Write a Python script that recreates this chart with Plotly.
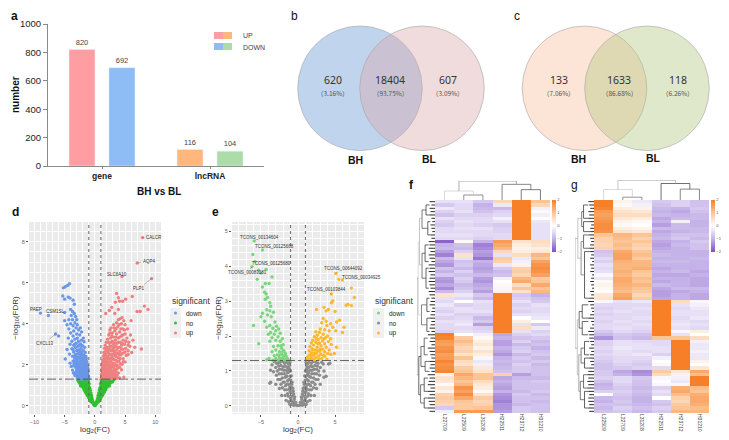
import plotly.graph_objects as go

W, H = 729, 440

# panel a
bar_groups = ["gene", "lncRNA"]
bar_up = [820, 116]
bar_down = [692, 104]
bar_up_colors = ["#ff9ea2", "#ffb77e"]
bar_down_colors = ["#8ebcf5", "#acdcaa"]
bar_ticks = [0, 200, 400, 600, 800, 1000]

# panels b, c
venn_b_counts = ["620", "18404", "607"]
venn_b_pcts = ["（3.16%）", "（93.75%）", "（3.09%）"]
venn_c_counts = ["133", "1633", "118"]
venn_c_pcts = ["（7.06%）", "（86.68%）", "（6.26%）"]

d_up = [
    (7.9,8.2),(7.0,6.96),(4.5,6.3),(9.4,6.2),(3.6,5.48),(3.9,5.27),(6.2,5.33),(5.1,5.2),(4.6,5.1),(3.4,5.05),
    (4.1,5.1),(8.2,4.86),(8.8,4.7),(7.5,4.6),(7.0,4.6),(2.8,4.8),(3.9,4.7),(2.4,4.65),(1.8,4.5),(3.3,4.5),
    (7.7,2.77),(4.8,1.4),(4.5,4.3),(4.2,4.25),(3.9,4.2),(4.8,4.15),(6.0,4.15),(3.6,4.05),(4.4,4.0),(5.0,3.95),
    (3.1,3.95),(3.8,3.85),(2.7,3.8),(4.6,3.75),(5.4,3.75),(2.5,3.7),(3.3,3.65),(4.1,3.6),(2.9,3.55),(3.6,3.5),
    (5.0,3.5),(5.9,3.45),(2.3,3.45),(4.4,3.4),(3.1,3.35),(3.9,3.3),(2.6,3.3),(5.3,3.3),(2.1,3.25),(4.7,3.2),
    (3.4,3.2),(6.3,3.2),(2.9,3.15),(4.2,3.1),(1.9,3.1),(5.6,3.1),(2.4,3.05),(3.7,3.05),(3.1,3.0),(4.9,3.0),
    (1.7,2.95),(4.4,2.95),(2.7,2.9),(5.8,2.9),(3.5,2.9),(2.1,2.85),(4.0,2.85),(6.6,2.85),(3.0,2.8),(1.6,2.8),
    (5.1,2.8),(2.4,2.75),(4.6,2.75),(3.6,2.72),(1.9,2.7),(2.8,2.68),(5.5,2.68),(4.1,2.65),(3.2,2.62),(1.5,2.6),
    (2.2,2.6),(6.1,2.6),(4.8,2.58),(3.7,2.55),(2.6,2.52),(1.8,2.5),(3.1,2.48),(4.3,2.48),(5.2,2.45),(1.4,2.42),
    (2.1,2.4),(3.5,2.4),(2.8,2.36),(3.9,2.34),(1.6,2.32),(4.7,2.3),(2.4,2.28),(3.2,2.25),(1.9,2.22),(1.3,2.2),
    (2.7,2.18),(3.7,2.16),(5.0,2.14),(1.6,2.12),(2.2,2.1),(3.0,2.08),(4.2,2.05),(1.4,2.02),(1.9,2.0),(2.5,1.98),
    (3.4,1.96),(1.2,1.94),(2.9,1.92),(1.6,1.9),(2.2,1.88),(3.8,1.86),(1.3,1.84),(2.6,1.82),(1.8,1.8),(3.2,1.78),
    (4.4,1.76),(1.15,1.74),(2.1,1.72),(1.5,1.7),(2.8,1.68),(1.9,1.66),(3.5,1.64),(1.25,1.62),(2.4,1.6),(1.7,1.58),
    (3.0,1.56),(1.1,1.54),(2.1,1.52),(1.45,1.5),(2.6,1.48),(3.7,1.48),(1.8,1.46),(1.2,1.44),(2.3,1.42),(3.2,1.42),
    (1.55,1.4),(2.8,1.38),(1.1,1.37),(1.9,1.36),(4.1,1.36),(1.35,1.34),(2.4,1.34),(3.4,1.33),(1.7,1.32),(2.1,1.32),
    # densest part of the cloud
    (2.5,3.55),(3.5,3.75),(4.0,3.95),(4.9,3.7),(4.3,3.75),(3.2,3.8),(2.8,3.4),(3.5,3.35),(4.1,3.35),(4.6,3.45),
    (2.3,3.1),(2.7,3.1),(3.3,3.05),(3.9,3.1),(4.5,3.05),(5.1,3.15),(5.5,2.95),(1.95,2.85),(2.5,2.9),(3.2,2.85),
    (3.8,2.82),(4.4,2.78),(5.0,2.62),(5.5,2.5),(1.7,2.62),(2.1,2.7),(2.6,2.7),(3.1,2.68),(3.4,2.58),(4.0,2.5),
    (4.5,2.55),(1.55,2.46),(1.95,2.42),(2.4,2.48),(2.9,2.5),(3.3,2.45),(4.2,2.3),(4.7,2.15),(1.4,2.25),(1.75,2.3),
    (2.2,2.3),(2.6,2.32),(3.0,2.3),(3.5,2.22),(4.0,2.18),(4.5,2.02),(1.25,2.08),(1.75,2.12),(2.0,2.18),(2.45,2.14),
    (2.85,2.05),(3.3,2.05),(3.7,1.98),(4.1,1.88),(1.35,1.95),(1.75,1.96),(2.1,1.98),(2.4,1.86),(2.75,1.88),(3.15,1.9),
    (3.6,1.78),(1.2,1.82),(1.55,1.8),(1.95,1.78),(2.25,1.76),(2.6,1.7),(3.0,1.7),(3.4,1.72),(3.9,1.6),(1.3,1.68),
    (1.7,1.68),(2.0,1.6),(2.7,1.56),(3.3,1.54),(3.5,1.45),(1.2,1.55),(1.5,1.56),(1.9,1.5),(2.4,1.5),(2.95,1.46),
    (1.3,1.44),(1.65,1.42),(2.1,1.4),(2.55,1.38),(3.0,1.35),(3.7,1.35),(1.2,1.36),(1.5,1.33),(2.3,1.32),(2.75,1.32),
]
d_down = [
    (-4.2,5.95),(-4.9,5.8),(-4.5,5.87),(-5.2,5.75),(-5.3,5.35),(-4.4,5.3),(-4.1,5.25),(-5.0,5.2),(-3.6,5.15),
    (-3.4,4.95),(-9.0,4.52),(-7.7,4.4),(-4.0,4.7),(-3.7,4.6),(-5.0,4.55),(-3.4,4.5),(-3.9,4.4),(-3.2,4.35),
    (-4.3,4.2),(-3.7,4.2),(-3.0,4.2),(-5.0,4.15),(-3.3,4.05),(-4.0,4.0),(-4.6,3.95),(-2.9,3.95),(-3.6,3.9),
    (-3.1,3.8),(-2.4,3.8),(-4.3,3.75),(-2.7,3.7),(-3.5,3.65),(-2.2,3.6),(-6.5,3.5),(-6.0,3.4),(-4.0,3.55),
    (-3.0,3.5),(-2.5,3.45),(-3.6,3.4),(-1.9,3.3),(-2.9,3.3),(-4.4,3.3),(-3.3,3.25),(-2.2,3.2),(-2.7,3.15),
    (-3.8,3.15),(-1.8,3.12),(-3.1,3.05),(-2.4,3.02),(-4.1,3.0),(-3.5,2.95),(-2.0,2.92),(-2.8,2.9),(-1.7,2.85),
    (-3.2,2.85),(-2.3,2.8),(-3.8,2.78),(-4.6,2.75),(-2.6,2.72),(-1.9,2.7),(-3.0,2.68),(-3.5,2.62),(-1.6,2.6),
    (-2.2,2.6),(-2.7,2.55),(-4.2,2.52),(-3.2,2.5),(-1.8,2.48),(-2.4,2.45),(-3.7,2.42),(-1.5,2.4),(-2.9,2.38),
    (-2.0,2.35),(-3.3,2.32),(-1.4,2.3),(-2.5,2.28),(-4.9,2.28),(-1.7,2.24),(-3.0,2.22),(-2.2,2.2),(-3.6,2.18),
    (-1.3,2.15),(-2.7,2.12),(-1.9,2.1),(-4.1,2.08),(-3.2,2.06),(-1.5,2.04),(-2.4,2.02),(-2.9,1.98),(-1.2,1.96),
    (-3.5,1.95),(-1.8,1.94),(-2.1,1.9),(-2.6,1.88),(-1.4,1.86),(-3.1,1.84),(-1.15,1.82),(-2.3,1.8),(-1.7,1.78),
    (-2.8,1.76),(-3.7,1.74),(-1.3,1.72),(-2.0,1.7),(-1.1,1.68),(-2.5,1.66),(-1.6,1.64),(-3.2,1.62),(-2.2,1.6),
    (-1.2,1.58),(-1.9,1.56),(-2.7,1.54),(-1.45,1.52),(-3.0,1.5),(-1.1,1.48),(-2.3,1.46),(-1.7,1.44),(-2.6,1.42),
    (-1.3,1.4),(-2.0,1.38),(-1.1,1.36),(-2.9,1.36),(-1.55,1.34),(-2.4,1.33),(-1.85,1.32),(-1.2,1.32),(-2.2,1.31),
    # densest part of the cloud
    (-3.3,3.0),(-2.6,2.95),(-2.2,2.95),(-3.6,2.75),(-2.9,2.72),(-2.1,2.5),(-2.5,2.55),(-3.0,2.52),(-3.4,2.42),(-1.75,2.35),
    (-2.2,2.35),(-2.7,2.35),(-3.1,2.35),(-1.5,2.18),(-1.95,2.22),(-2.45,2.15),(-2.95,2.1),(-3.45,2.05),(-1.4,2.04),(-1.7,2.05),
    (-2.15,2.05),(-2.65,2.0),(-3.15,1.92),(-1.3,1.9),(-1.6,1.92),(-1.95,1.88),(-2.4,1.9),(-2.85,1.86),(-1.45,1.76),(-1.9,1.76),
    (-2.15,1.74),(-2.55,1.76),(-3.0,1.72),(-1.25,1.66),(-1.5,1.62),(-1.85,1.66),(-2.35,1.66),(-2.75,1.62),(-3.3,1.48),(-1.35,1.56),
    (-1.65,1.54),(-2.05,1.54),(-2.45,1.54),(-2.9,1.46),(-1.25,1.48),(-1.5,1.44),(-1.95,1.46),(-2.2,1.38),(-2.5,1.4),(-1.3,1.35),
    (-1.7,1.36),(-2.05,1.32),(-2.7,1.33),(-1.45,1.31),(-1.0,1.33),(-1.05,1.43),(-2.4,2.65),(-3.4,2.2),(-3.9,1.92),(-3.55,1.6),
]
d_no = [
    (3.2,1.29),(2.9,1.27),(2.5,1.28),(2.1,1.26),(1.7,1.28),(1.3,1.27),(1.05,1.28),(2.7,1.2),(2.3,1.18),(1.9,1.2),
    (1.5,1.16),(1.1,1.18),(2.5,1.1),(2.0,1.08),(1.6,1.06),(1.2,1.05),(0.95,1.08),(2.2,1.0),(1.8,0.97),(1.4,0.95),
    (1.0,0.94),(2.0,0.9),(1.6,0.86),(1.2,0.84),(0.85,0.86),(1.8,0.78),(1.4,0.74),(1.0,0.72),(0.75,0.75),(1.5,0.64),
    (1.2,0.62),(0.85,0.6),(0.65,0.62),(1.25,0.52),(1.0,0.5),(0.7,0.48),(0.55,0.5),(1.0,0.4),(0.75,0.38),(0.5,0.38),
    (0.8,0.3),(0.55,0.27),(0.4,0.28),(0.55,0.18),(0.35,0.16),(0.25,0.1),(0.15,0.05),(0.05,0.01),(-0.05,0.01),(-0.15,0.05),
    (-0.25,0.1),(-0.35,0.16),(-0.55,0.18),(-0.4,0.28),(-0.55,0.27),(-0.8,0.3),(-0.5,0.38),(-0.75,0.38),(-1.0,0.4),(-0.55,0.5),
    (-0.7,0.48),(-1.0,0.5),(-1.25,0.52),(-0.65,0.62),(-0.85,0.6),(-1.2,0.62),(-1.5,0.64),(-0.75,0.75),(-1.0,0.72),(-1.4,0.74),
    (-1.8,0.78),(-0.85,0.86),(-1.2,0.84),(-1.6,0.86),(-2.0,0.9),(-1.0,0.94),(-1.4,0.95),(-1.8,0.97),(-2.2,1.0),(-0.95,1.08),
    (-1.2,1.05),(-1.6,1.06),(-2.0,1.08),(-2.5,1.1),(-1.1,1.18),(-1.5,1.16),(-1.9,1.2),(-2.3,1.18),(-2.7,1.2),(-1.05,1.28),
    (-1.3,1.27),(-1.7,1.28),(-2.1,1.26),(-2.5,1.28),(-2.85,1.27),
    # filling between the arms' edges
    (3.0,1.22),(2.6,1.24),(2.2,1.22),(1.8,1.24),(1.4,1.22),(2.9,1.16),(2.1,1.13),(1.7,1.12),(1.3,1.11),(2.35,1.05),
    (1.8,1.03),(1.45,1.0),(1.1,1.0),(2.4,0.97),(1.9,0.93),(1.3,0.9),(0.95,0.88),(1.7,0.82),(1.45,0.8),(1.1,0.78),
    (1.6,0.7),(1.25,0.68),(0.9,0.68),(1.35,0.58),(1.05,0.56),(0.75,0.55),(1.1,0.45),(0.85,0.43),(0.6,0.42),(0.9,0.35),
    (0.65,0.33),(0.45,0.22),(0.7,0.22),(0.3,0.2),(0.2,0.14),(-0.2,0.14),(-0.3,0.2),(-0.7,0.22),(-0.45,0.22),(-0.65,0.33),
    (-0.9,0.35),(-0.6,0.42),(-0.85,0.43),(-1.1,0.45),(-0.75,0.55),(-1.05,0.56),(-1.35,0.58),(-0.9,0.68),(-1.25,0.68),(-1.6,0.7),
    (-1.1,0.78),(-1.45,0.8),(-1.7,0.82),(-0.95,0.88),(-1.3,0.9),(-1.9,0.93),(-2.35,0.97),(-1.1,1.0),(-1.45,1.0),(-1.8,1.03),
    (-2.3,1.05),(-1.3,1.11),(-1.7,1.12),(-2.1,1.13),(-2.6,1.16),(-1.4,1.22),(-1.8,1.24),(-2.2,1.22),(-2.55,1.24),(-1.1,1.1),
]
d_names = ["CALCR", "AQP4", "SLC6A10", "PLP1", "PAEP", "CSM1SL", "CXCL13"]
d_name_x = [7.9, 7.0, 4.5, 9.4, -9.0, -7.7, -6.5]
d_name_y = [8.2, 6.96, 6.3, 6.2, 4.52, 4.4, 3.5]

# panel e
e_up = [
    (5.1,3.79),(6.0,3.6),(4.5,3.2),(5.5,3.62),(7.2,3.37),(7.6,3.1),(6.75,2.9),(6.5,2.88),(7.2,2.87),(4.7,3.0),
    (4.5,2.95),(3.5,2.82),(2.5,2.76),(4.1,2.76),(3.8,2.72),(5.0,2.7),(5.6,2.45),(5.2,2.4),(6.2,2.25),(6.0,2.1),
    (3.4,2.5),(3.8,2.42),(3.2,2.38),(4.4,2.35),(3.9,2.3),(4.7,2.25),(3.0,2.2),(3.6,2.18),(4.2,2.15),(5.1,2.15),
    (2.4,2.12),(2.9,2.1),(3.4,2.05),(2.6,2.02),(4.0,2.0),(2.2,1.98),(3.1,1.95),(3.7,1.95),(4.4,1.92),(2.7,1.9),
    (2.0,1.88),(3.3,1.86),(4.1,1.84),(2.4,1.82),(1.8,1.8),(2.9,1.8),(3.6,1.78),(4.5,1.76),(2.1,1.74),(3.1,1.72),
    (5.2,1.68),(1.6,1.7),(2.6,1.68),(3.8,1.68),(1.9,1.64),(3.3,1.62),(2.3,1.6),(4.2,1.6),(1.5,1.58),(2.9,1.56),
    (3.6,1.55),(1.8,1.52),(2.5,1.5),(3.1,1.48),(4.4,1.48),(1.5,1.46),(2.1,1.45),(4.9,1.5),(2.8,1.42),(3.6,1.42),
    (1.3,1.4),(1.8,1.38),(2.4,1.38),(3.2,1.36),(1.5,1.35),(2.1,1.33),(2.8,1.33),(1.2,1.32),(3.9,1.34),(1.7,1.31),
    (2.0,1.6),(2.7,1.78),(3.5,1.92),(2.2,1.5),(2.6,1.58),(3.0,1.62),(1.7,1.45),(3.4,1.45),(4.0,1.5),(2.5,1.92),
]
e_down = [
    (-5.9,4.72),(-4.8,4.46),(-6.1,4.33),(-5.8,4.13),(-6.2,3.98),(-4.3,3.9),(-5.3,3.88),(-5.0,3.8),(-3.5,3.69),(-5.5,3.62),
    (-4.4,3.5),(-3.9,3.5),(-4.8,3.4),(-4.3,3.2),(-4.5,3.25),(-4.1,3.1),(-4.4,3.05),(-3.8,2.95),(-3.7,2.85),(-4.2,2.75),
    (-3.8,2.72),(-4.8,2.65),(-3.3,2.68),(-4.1,2.6),(-3.6,2.55),(-5.0,2.55),(-4.5,2.42),(-3.1,2.4),(-6.0,2.3),(-3.8,2.3),
    (-2.9,2.28),(-4.2,2.25),(-3.4,2.22),(-2.6,2.2),(-3.0,2.15),(-3.7,2.1),(-2.4,2.08),(-3.2,2.05),(-4.0,2.05),(-2.7,1.98),
    (-3.5,1.95),(-2.1,1.92),(-3.0,1.88),(-2.4,1.85),(-3.8,1.85),(-5.3,1.78),(-2.0,1.75),(-2.7,1.72),(-3.3,1.7),(-2.2,1.65),
    (-3.0,1.6),(-1.9,1.58),(-2.5,1.55),(-3.5,1.55),(-1.7,1.5),(-2.2,1.48),(-2.8,1.46),(-3.2,1.44),(-1.6,1.42),(-2.0,1.4),
    (-2.5,1.38),(-3.0,1.36),(-3.9,1.36),(-1.4,1.35),(-1.9,1.33),(-2.3,1.32),(-2.8,1.31),(-3.4,1.31),(-1.3,1.31),(-4.2,1.32),
    (-2.2,1.36),(-2.6,1.45),(-1.8,1.45),(-2.05,1.56),(-2.3,1.72),(-1.65,1.33),
]
e_no = [
    (2.0,1.27),(1.5,1.26),(1.1,1.25),(2.7,1.22),(3.2,1.25),(4.1,1.2),(2.3,1.16),(1.7,1.14),(1.2,1.12),(3.0,1.1),
    (2.5,1.05),(1.9,1.02),(1.0,1.0),(3.5,1.0),(1.4,0.95),(2.2,0.92),(2.9,0.88),(0.9,0.86),(1.7,0.82),(3.8,0.85),
    (1.2,0.76),(2.4,0.76),(2.0,0.68),(0.8,0.68),(1.5,0.62),(3.0,0.62),(1.1,0.55),(2.5,0.5),(0.7,0.5),(1.8,0.46),
    (0.95,0.38),(1.4,0.35),(0.6,0.34),(2.2,0.3),(1.0,0.22),(0.5,0.2),(1.6,0.16),(0.7,0.1),(0.4,0.08),(1.1,0.05),
    (0.25,0.03),(0.6,0.02),(0.1,0.01),(-0.1,0.01),(-0.6,0.02),(-0.25,0.03),(-1.1,0.05),(-0.4,0.08),(-0.7,0.1),(-1.6,0.16),
    (-0.5,0.2),(-1.0,0.22),(-2.2,0.3),(-0.6,0.34),(-1.4,0.35),(-0.95,0.38),(-1.8,0.46),(-0.7,0.5),(-2.5,0.5),(-1.1,0.55),
    (-3.0,0.62),(-1.5,0.62),(-0.8,0.68),(-3.7,0.68),(-2.0,0.68),(-1.2,0.76),(-2.4,0.76),(-1.7,0.82),(-0.9,0.86),(-2.9,0.88),
    (-2.2,0.92),(-1.4,0.95),(-3.3,0.98),(-1.0,1.0),(-1.9,1.02),(-2.5,1.05),(-3.0,1.1),(-1.2,1.12),(-1.7,1.14),(-2.3,1.16),
    (-3.5,1.18),(-2.7,1.22),(-1.1,1.25),(-1.5,1.26),(-2.0,1.27),(-3.2,1.27),(-2.5,1.28),(-1.3,1.05),(-1.6,0.85),(1.3,0.9),
    # filling the grey V
    (1.3,1.2),(1.8,1.22),(2.4,1.25),(1.4,1.1),(1.95,1.12),(2.6,1.14),(1.15,1.05),(1.6,1.02),(2.2,1.05),(2.8,1.0),
    (1.25,0.98),(1.85,0.92),(2.5,0.92),(1.05,0.85),(1.5,0.85),(2.1,0.8),(2.7,0.76),(1.0,0.74),(1.4,0.72),(1.85,0.68),
    (2.3,0.62),(0.85,0.62),(1.25,0.62),(1.7,0.58),(2.1,0.52),(0.8,0.52),(1.2,0.48),(1.55,0.46),(0.65,0.42),(1.05,0.42),
    (1.3,0.28),(0.75,0.28),(0.45,0.26),(1.75,0.3),(0.9,0.15),(0.5,0.12),(1.25,0.12),(0.3,0.1),(0.8,0.05),(0.45,0.03),
    (-0.45,0.03),(-0.8,0.05),(-0.3,0.1),(-1.25,0.12),(-0.5,0.12),(-0.9,0.15),(-1.75,0.3),(-0.45,0.26),(-0.75,0.28),(-1.3,0.28),
    (-1.05,0.42),(-0.65,0.42),(-1.55,0.46),(-1.2,0.48),(-0.8,0.52),(-2.1,0.52),(-1.7,0.58),(-1.25,0.62),(-0.85,0.62),(-2.3,0.62),
    (-1.85,0.68),(-1.4,0.72),(-1.0,0.74),(-2.7,0.76),(-2.1,0.8),(-1.5,0.85),(-1.05,0.85),(-2.5,0.92),(-1.85,0.92),(-1.25,0.98),
    (-2.8,1.0),(-2.2,1.05),(-1.6,1.02),(-1.15,1.05),(-2.6,1.14),(-1.95,1.12),(-1.4,1.1),(-2.4,1.25),(-1.8,1.22),(-1.3,1.2),
    (-3.8,0.65),(3.5,0.82),(4.3,1.22),(-3.7,1.02),(-2.9,1.22),(3.4,1.2),
]
e_names = ["TCONS_00134604", "TCONS_00125668", "TCONS_00125680", "TCONS_00083181",
           "TCONS_00644092", "TCONS_00034925", "TCONS_00103844"]
e_name_x = [-5.9, -4.8, -5.8, -6.2, 5.1, 6.0, 4.5]
e_name_y = [4.72, 4.46, 4.13, 3.98, 3.79, 3.6, 3.2]

# panels f, g, colour units -2..2
f_columns = ["L22709", "L22509", "L31208", "H22511", "H23712", "H31210"]
f_rows = [
    [-0.4,-0.4,-0.7,0.7,2,1.0],[-0.7,-0.5,-1.0,-0.3,2,0.7],[-0.3,-0.5,-0.9,-0.9,2,-0.2],[-0.6,-0.4,-0.8,-0.6,2,0.1],
    [-0.8,-0.6,-0.6,-0.5,2,-0.2],[-0.4,-0.5,-0.5,-0.2,2,0.0],[-0.6,-0.4,-0.5,-0.4,2,-0.3],[-0.7,-0.5,-0.6,-0.7,2,-0.4],
    [-0.5,-0.4,-0.4,-0.6,2,-0.4],[-0.5,-0.5,-0.5,-0.6,2,-0.4],[-0.4,-0.4,-0.5,-0.5,2,-0.4],[-0.5,-0.5,-0.6,-0.5,2,-0.4],
    [-1.8,0.1,-1.0,1.6,0.5,0.6],[-1.0,-0.8,-1.5,1.4,0.3,0.5],[-0.9,-0.9,-1.4,1.2,0.2,0.3],[-1.2,-0.6,-1.2,0.7,0.3,0.4],
    [-1.5,0.5,-1.3,-0.4,0.6,1.2],[-0.9,-0.4,-1.6,0.9,-0.3,1.0],[-1.1,-0.8,-1.0,0.8,-0.2,1.5],[-1.3,-0.7,-1.1,-0.3,0.2,1.7],
    [-0.8,-0.9,-1.2,-0.7,0.8,1.8],[-1.0,-0.6,-1.1,-0.9,0.9,1.7],[-0.7,-0.8,-0.9,-0.8,0.7,1.5],[-1.2,-0.6,-1.2,-0.2,1.2,0.9],
    [-1.3,-0.7,-1.3,0.0,1.4,1.0],[-1.1,-0.9,-1.1,0.1,0.6,1.4],[-1.4,-0.8,-1.0,-0.1,1.0,1.0],[-0.9,-0.6,-1.2,0.2,0.5,1.2],
    [0.5,-0.3,-0.7,2,-0.7,-1.0],[-0.4,-0.5,-0.9,2,-0.6,-0.8],[-0.5,0.0,-0.4,2,-0.4,-0.7],[-0.3,-0.6,-0.5,2,-0.6,-0.4],
    [-0.5,-0.4,-0.5,2,-0.5,-0.5],[-0.6,-0.4,-0.4,2,-0.6,-0.5],[-0.4,-0.6,-0.6,2,-0.4,-0.4],[-0.6,-0.5,-0.9,2,0.0,-0.3],
    [-0.4,-0.4,-0.7,2,0.3,0.0],[-0.5,-0.3,-1.2,2,-0.4,-0.7],[-0.5,-0.5,-0.6,2,0.6,-0.3],[-0.6,-0.4,-0.5,2,-0.4,-0.6],
    [2,0.0,-0.2,-1.1,-0.6,-0.5],[1.9,0.9,0.1,-1.0,-0.8,-0.7],[1.6,1.1,0.3,-1.2,-0.6,-0.9],[1.5,0.9,0.4,-1.2,-0.9,-0.8],
    [1.7,0.7,0.2,-1.0,-0.7,-1.0],[1.8,0.8,0.5,-1.1,-0.6,-0.8],[1.5,0.5,0.3,-1.3,-0.9,-0.7],[1.6,1.0,-0.1,-1.0,-0.7,-0.9],
    [1.9,0.6,-0.3,-0.9,-0.8,-0.7],[1.7,0.5,-0.2,-1.0,-0.6,-0.9],[1.8,0.9,0.4,-0.9,-0.7,-0.8],[1.9,1.0,0.5,-0.8,-0.7,-0.8],
    [0.2,1.4,1.0,0.8,-1.2,-0.8],[0.5,1.2,1.0,-1.1,-0.9,-0.9],[0.4,1.0,0.6,-1.0,-0.8,-0.7],[0.1,1.2,0.4,-1.1,-0.8,-0.8],
    [0.4,1.7,0.3,-1.2,-0.8,-0.8],[0.2,1.5,0.1,-1.0,-0.9,-0.7],[0.8,1.8,0.5,-1.3,-0.7,-0.9],[0.9,1.4,0.9,-1.4,-0.8,-0.8],
    [0.8,1.0,0.7,-1.5,-0.8,-0.9],[0.7,0.9,0.8,-1.3,-0.9,-0.8],[-0.7,0.9,1.0,-1.3,-0.7,-0.8],[-0.2,1.6,1.6,-1.2,-0.7,-0.8],
]
g_columns = ["L22509", "L22709", "L31208", "H22511", "H23712", "H31210"]
g_rows = [
    [2,0.2,-0.3,-0.7,-0.6,-0.8],[2,0.1,-0.2,-0.8,-0.6,-0.8],[1.9,0.3,0.2,-0.9,-1.0,-0.7],[1.6,0.5,0.4,-1.0,-1.1,-0.8],
    [1.5,0.6,0.6,-0.9,-1.0,-0.9],[1.6,0.4,0.3,-1.1,-0.9,-0.9],[1.7,0.2,0.1,-1.0,-0.2,-1.0],[1.8,0.1,0.0,-1.2,-0.9,-1.0],
    [1.8,0.3,0.2,-0.9,-0.9,-0.9],[1.7,0.5,0.4,-1.1,-1.0,-0.9],[1.0,1.2,1.0,-1.0,-0.8,-0.8],[0.8,1.1,0.8,-0.9,-0.7,-0.9],
    [0.8,1.0,1.0,-1.1,-1.0,-0.7],[0.7,1.1,0.8,-1.2,-0.9,-0.8],[0.8,1.0,0.7,-1.1,-1.0,-0.8],[-0.8,1.4,1.0,-1.0,-1.0,-1.0],
    [-0.7,1.5,1.1,-0.9,-1.0,-1.0],[-0.5,1.5,0.9,-1.0,-1.0,-0.9],[-0.6,1.3,1.2,-0.9,-0.9,-1.0],[-0.4,1.2,1.2,-1.0,-1.0,-1.0],
    [-0.5,1.2,1.3,-1.1,-1.0,-1.0],[-0.4,1.3,1.0,-1.0,-0.9,-1.1],[-0.1,1.2,0.9,-1.1,-1.1,-1.0],[-0.3,1.4,1.1,-1.0,-1.0,-1.1],
    [0.1,1.4,1.0,-1.1,-1.0,-1.1],[0.2,1.3,1.2,-0.9,-1.0,-1.1],[0.1,1.2,1.0,-1.1,-0.9,-0.9],[0.0,1.1,0.9,-1.2,-1.1,-1.0],
    [0.4,1.4,0.7,-1.2,-1.0,-1.1],[0.5,1.5,0.9,-1.1,-1.0,-1.1],[-0.1,-0.4,-0.3,2,0.6,-0.1],[-0.5,-0.5,-0.5,2,-0.4,-0.2],
    [-0.6,-0.5,-0.4,2,-0.5,-0.3],[-0.5,-0.4,-0.5,2,-0.4,-0.4],[-0.6,-0.5,-0.5,2,-0.4,-0.4],[-0.5,-0.5,-0.4,2,-0.5,-0.3],
    [-0.6,-0.4,-0.5,2,-0.4,-0.5],[-0.5,-0.5,-0.4,2,-0.3,-0.4],[-0.5,-0.4,-0.5,2,-0.4,-0.5],[-0.7,-0.5,-0.6,2,-0.1,0.3],
    [-0.9,-0.7,-0.8,2,-0.4,0.0],[-1.3,-0.8,-0.9,1.0,1.0,0.6],[-0.6,-0.4,-0.5,-0.5,2,-0.2],[-0.6,-0.4,-0.4,-0.5,2,-0.3],
    [-0.5,-0.3,-0.4,-0.4,2,-0.3],[-0.6,-0.4,-0.5,-0.4,2,-0.2],[-0.5,-0.4,-0.3,-0.6,2,-0.3],[-0.6,-0.5,-0.5,-0.2,2,-0.3],
    [-0.7,-0.5,-0.6,0.0,2,0.2],[-0.8,-0.6,-0.7,0.1,2,0.0],[-0.8,-0.7,-0.6,-0.5,2,0.4],[-0.7,-1.1,-1.4,0.9,0.4,1.4],
    [-0.7,-1.0,-1.3,0.6,0.2,1.1],[-0.6,-0.5,-0.7,-0.1,-0.2,2],[-0.8,-0.5,-0.8,0.0,-0.3,2],[-1.0,-0.6,-0.8,-0.1,-0.1,2],
    [-0.9,-0.7,-0.9,-0.6,1.3,1.1],[-0.6,-0.6,-0.8,-0.4,1.4,1.0],[0.0,-0.7,-0.9,-0.5,1.1,1.3],[-0.9,-0.8,-1.0,0.0,0.8,1.4],
    [-1.0,-0.7,-1.0,-0.7,0.7,1.4],[-0.8,-0.8,-0.9,-0.8,0.9,1.3],[-0.9,-0.6,-0.8,-0.6,1.0,1.1],[-0.8,-0.7,-0.9,-0.7,1.2,1.2],
]
heat_ticks = [-2, -1, 0, 1, 2]
heat_scale = [[0, "#7d50c2"], [0.25, "#c4b2e8"], [0.5, "#ffffff"], [0.75, "#fcc596"], [1, "#f67f28"]]

# dendrograms: (pos_a, pos_b, height_a, height_b, height_top, colour)
f_col_tree = [
    (1, 2, 0, 0, 15, "#666666"), (0, 1.5, 0, 15, 27, "#c8c8c8"), (4, 5, 0, 0, 31, "#444444"),
    (3, 4.5, 0, 31, 47, "#555555"), (0.75, 3.75, 27, 47, 57, "#888888"),
]
g_col_tree = [
    (1, 2, 0, 0, 8, "#666666"), (0, 1.5, 0, 8, 30, "#c8c8c8"), (4, 5, 0, 0, 31, "#555555"),
    (3, 4.5, 0, 31, 47, "#333333"), (0.75, 3.75, 30, 47, 56, "#aaaaaa"),
]
f_row_tree = [
    (1, 4, .3, .3, .5, "#222222"), (6, 10, .25, .25, .4, "#222222"), (2.5, 8, .5, .4, .72, "#444444"),
    (13, 18, .35, .35, .55, "#222222"), (20, 26, .35, .35, .5, "#222222"), (15.5, 23, .55, .5, .72, "#444444"),
    (5, 19, .72, .72, .86, "#aaaaaa"), (29, 33, .3, .3, .45, "#222222"), (35, 39, .3, .3, .45, "#222222"),
    (31, 37, .45, .45, .75, "#555555"), (12, 34, .86, .75, .93, "#cccccc"), (41, 46, .4, .4, .6, "#333333"),
    (48, 51, .3, .3, .55, "#333333"), (43.5, 49.5, .6, .55, .78, "#333333"), (53, 57, .4, .4, .6, "#222222"),
    (59, 62, .4, .4, .6, "#222222"), (55, 60.5, .6, .6, .8, "#444444"), (46.5, 58, .78, .8, .9, "#222222"),
    (23, 52, .93, .9, 1, "#888888"),
]
g_row_tree = [
    (1, 5, .3, .3, .55, "#222222"), (6, 9, .2, .2, .55, "#222222"), (3, 7.5, .55, .55, .65, "#444444"),
    (10, 14, .25, .25, .55, "#333333"), (15, 29, .2, .2, .5, "#222222"), (12, 22, .55, .5, .68, "#666666"),
    (5, 17, .65, .68, .85, "#aaaaaa"), (31, 35, .3, .3, .62, "#222222"), (36, 40, .3, .3, .62, "#222222"),
    (33, 38, .62, .62, .78, "#333333"), (42, 46, .25, .25, .5, "#222222"), (47, 50, .25, .25, .5, "#222222"),
    (44, 48.5, .5, .5, .68, "#444444"), (52, 56, .35, .35, .55, "#333333"), (57, 62, .3, .3, .5, "#222222"),
    (54, 59.5, .55, .5, .72, "#444444"), (46, 57, .68, .72, .8, "#888888"), (35.5, 52, .78, .8, .88, "#aaaaaa"),
    (11, 44, .85, .88, 1, "#999999"),
]
f_row_leaves = [.3,.2,.3,.25,.3,.2,.15,.25,.2,.15,.25,.2,.35,.3,.35,.25,.35,.3,.2,.35,.3,.35,.25,.3,.35,.3,.25,.35,
                .3,.2,.25,.3,.15,.2,.25,.3,.2,.25,.3,.2,.4,.25,.3,.2,.4,.3,.25,.2,.3,.25,.3,.2,.4,.3,.35,.4,.25,
                .4,.3,.4,.35,.3,.4,.3]
g_row_leaves = [.3,.25,.2,.3,.25,.3,.2,.15,.2,.2,.25,.2,.15,.2,.25,.2,.15,.2,.1,.2,.15,.2,.1,.15,.2,.15,.1,.2,.15,.2,
                .3,.2,.15,.1,.2,.3,.15,.1,.2,.3,.25,.25,.2,.15,.25,.15,.2,.25,.2,.15,.25,.3,.35,.3,.35,.3,.35,.3,.25,.3,
                .3,.25,.3,.25]


def dom_x(left, right):
    return [left / W, right / W]


def dom_y(top, bottom):
    return [1 - bottom / H, 1 - top / H]


def note(x, y, text, size=8, color="#222222", bold=False, family="Liberation Sans", angle=0, xanchor="center"):
    if bold:
        text = f"<b>{text}</b>"
    return dict(x=x / W, y=1 - y / H, xref="paper", yref="paper", text=text, showarrow=False,
                font=dict(size=size, color=color, family=family), textangle=angle, xanchor=xanchor, yanchor="middle")


def ggplot_axis(left, right, rng, dtick, anchor, title, standoff):
    return dict(domain=dom_x(left, right) if anchor.startswith("y") else dom_y(left, right),
                range=rng, dtick=dtick, anchor=anchor, showgrid=True, gridcolor="white", gridwidth=0.8,
                minor=dict(showgrid=True, gridcolor="white", gridwidth=0.3),
                zeroline=False, ticks="outside", ticklen=2, tickcolor="#555555", tickwidth=0.6,
                tickfont=dict(size=5.5, color="#666666", family="Liberation Sans"), showline=False,
                title=dict(text=title, font=dict(size=8, color="#333333", family="Liberation Sans"), standoff=standoff))


def add_tree(fig, tree, xaxis, yaxis, horizontal):
    by_colour = {}
    for a, b, ha, hb, top, colour in tree:
        by_colour.setdefault(colour, []).append((a, b, ha, hb, top))
    for colour, links in by_colour.items():
        pos, hgt = [], []
        for a, b, ha, hb, top in links:
            pos += [a, a, b, b, None]
            hgt += [ha, top, top, hb, None]
        x, y = (pos, hgt) if horizontal else (hgt, pos)
        fig.add_trace(go.Scatter(x=x, y=y, xaxis=xaxis, yaxis=yaxis, mode="lines",
                                 line=dict(color=colour, width=0.7), hoverinfo="skip", showlegend=False))


def add_leaves(fig, leaves, xaxis, yaxis):
    x, y = [], []
    for row, depth in enumerate(leaves):
        x += [0, depth, None]
        y += [row, row, None]
    fig.add_trace(go.Scatter(x=x, y=y, xaxis=xaxis, yaxis=yaxis, mode="lines",
                             line=dict(color="#111111", width=0.9), hoverinfo="skip", showlegend=False))


def add_volcano(fig, pts, colour, xaxis, yaxis):
    fig.add_trace(go.Scatter(x=[p[0] for p in pts], y=[p[1] for p in pts], xaxis=xaxis, yaxis=yaxis,
                             mode="markers", marker=dict(size=3.4, color=colour, line=dict(width=0)),
                             showlegend=False))


fig = go.Figure()

# bars
fig.add_trace(go.Bar(x=bar_groups, y=bar_up, marker_color=bar_up_colors, text=bar_up, textposition="outside",
                     textfont=dict(size=7.5, color="#444444"), cliponaxis=False, showlegend=False))
fig.add_trace(go.Bar(x=bar_groups, y=bar_down, marker_color=bar_down_colors, text=bar_down, textposition="outside",
                     textfont=dict(size=7.5, color="#444444"), cliponaxis=False, showlegend=False))

# volcanoes
add_volcano(fig, d_no, "#2fc02f", "x2", "y2")
add_volcano(fig, d_down, "#6a97e8", "x2", "y2")
add_volcano(fig, d_up, "#ef8080", "x2", "y2")
add_volcano(fig, e_no, "#8c8c8c", "x3", "y3")
add_volcano(fig, e_down, "#7ad67c", "x3", "y3")
add_volcano(fig, e_up, "#fdb92e", "x3", "y3")

# heatmaps
fig.add_trace(go.Heatmap(z=f_rows, x=f_columns, xaxis="x4", yaxis="y4", colorscale=heat_scale, zmin=-2, zmax=2,
                         colorbar=dict(x=552 / W, xanchor="left", xpad=0, y=1 - 200 / H, yanchor="top", yref="paper", ypad=0,
                                       lenmode="pixels", len=52, thicknessmode="pixels", thickness=4,
                                       tickvals=heat_ticks, ticklen=0, outlinewidth=0,
                                       tickfont=dict(size=4, color="#555555"))))
fig.add_trace(go.Heatmap(z=g_rows, x=g_columns, xaxis="x5", yaxis="y5", colorscale=heat_scale, zmin=-2, zmax=2,
                         colorbar=dict(x=711 / W, xanchor="left", xpad=0, y=1 - 200 / H, yanchor="top", yref="paper", ypad=0,
                                       lenmode="pixels", len=52, thicknessmode="pixels", thickness=4,
                                       tickvals=heat_ticks, ticklen=0, outlinewidth=0,
                                       tickfont=dict(size=4, color="#555555"))))

# dendrograms
add_tree(fig, f_col_tree, "x6", "y6", True)
add_tree(fig, g_col_tree, "x7", "y7", True)
add_tree(fig, f_row_tree, "x8", "y8", False)
add_leaves(fig, f_row_leaves, "x8", "y8")
add_tree(fig, g_row_tree, "x9", "y9", False)
add_leaves(fig, g_row_leaves, "x9", "y9")

hidden = dict(showgrid=False, zeroline=False, showticklabels=False, ticks="", showline=False)
row_range = [63.5, -0.5]


def heat_x(left, right, anchor):
    return dict(domain=dom_x(left, right), anchor=anchor, side="bottom", showgrid=False, zeroline=False, ticks="",
                tickangle=90, ticklen=0, tickfont=dict(size=5, color="#444444", family="Liberation Sans"))


fig.update_layout(
    width=W, height=H, margin=dict(l=0, r=0, t=0, b=0, autoexpand=False), autosize=False,
    paper_bgcolor="white", plot_bgcolor="white", barmode="group", bargap=0.26, bargroupgap=0.35,
    font=dict(family="Liberation Sans"),
    xaxis=dict(domain=dom_x(48, 264), anchor="y", showline=True, linecolor="#8a8a8a", linewidth=1,
               ticks="outside", ticklen=2, tickcolor="#8a8a8a", tickfont=dict(size=8.5, color="#222222", family="Liberation Sans"),
               tickprefix="<b>", ticksuffix="</b>", showgrid=False, zeroline=False),
    yaxis=dict(domain=dom_y(24, 166), range=[0, 1000], anchor="x", tickvals=bar_ticks, showline=True,
               linecolor="#8a8a8a", linewidth=1, ticks="outside", ticklen=4, tickcolor="#8a8a8a", showgrid=False,
               tickfont=dict(size=9.5, color="#222222", family="Liberation Sans"), tickprefix="<b>", ticksuffix="</b>",
               zeroline=False),
    xaxis2=ggplot_axis(29, 161, [-10.9, 10.95], 5, "y2", "log<sub>2</sub>(FC)", 2),
    yaxis2=ggplot_axis(222, 414, [-0.4, 8.96], 2, "x2", "−log<sub>10</sub>(FDR)", 2),
    xaxis3=ggplot_axis(232, 364, [-8.9, 8.9], 5, "y3", "log<sub>2</sub>(FC)", 2),
    yaxis3=ggplot_axis(222, 414, [-0.23, 5.26], 1, "x3", "−log<sub>10</sub>(FDR)", 2),
    xaxis4=heat_x(435, 550, "y4"),
    yaxis4=dict(domain=dom_y(200, 413), anchor="x4", range=row_range, **hidden),
    xaxis5=heat_x(594, 709, "y5"),
    yaxis5=dict(domain=dom_y(200, 413), anchor="x5", range=row_range, **hidden),
    xaxis6=dict(domain=dom_x(435, 550), anchor="y6", range=[-0.5, 5.5], **hidden),
    yaxis6=dict(domain=dom_y(181, 200), anchor="x6", range=[0, 57], **hidden),
    xaxis7=dict(domain=dom_x(594, 709), anchor="y7", range=[-0.5, 5.5], **hidden),
    yaxis7=dict(domain=dom_y(180, 200), anchor="x7", range=[0, 57], **hidden),
    xaxis8=dict(domain=dom_x(417, 435), anchor="y8", range=[1, 0], **hidden),
    yaxis8=dict(domain=dom_y(200, 413), anchor="x8", range=row_range, **hidden),
    xaxis9=dict(domain=dom_x(575, 594), anchor="y9", range=[1, 0], **hidden),
    yaxis9=dict(domain=dom_y(200, 413), anchor="x9", range=row_range, **hidden),
)
# panel backgrounds of the two volcanoes
fig.update_layout(
    shapes=[
        dict(type="rect", xref="x2 domain", yref="y2 domain", x0=0, x1=1, y0=0, y1=1, fillcolor="#ebebeb", line_width=0, layer="below"),
        dict(type="rect", xref="x3 domain", yref="y3 domain", x0=0, x1=1, y0=0, y1=1, fillcolor="#ebebeb", line_width=0, layer="below"),
    ]
)

# thresholds
for xa, ya in (("x2", "y2"), ("x3", "y3")):
    for xv in (-1, 1):
        fig.add_shape(type="line", xref=xa, yref=f"{ya} domain", x0=xv, x1=xv, y0=0, y1=1,
                      line=dict(color="#666666", width=1, dash="dot"))
    fig.add_shape(type="line", xref=f"{xa} domain", yref=ya, x0=0, x1=1, y0=1.3, y1=1.3,
                  line=dict(color="#444444", width=0.8, dash="dashdot"))


def add_swatch(left, top, right, bottom, colour):
    fig.add_shape(type="rect", xref="paper", yref="paper", x0=left / W, x1=right / W, y0=1 - bottom / H, y1=1 - top / H,
                  fillcolor=colour, line_width=0)


def add_venn(cx_left, cx_right, left_fill, right_fill):
    cy, r = 88.3, 62.3
    for cx, fill in ((cx_left, left_fill), (cx_right, right_fill)):
        fig.add_shape(type="circle", xref="paper", yref="paper", x0=(cx - r) / W, x1=(cx + r) / W,
                      y0=1 - (cy + r) / H, y1=1 - (cy - r) / H, fillcolor=fill,
                      line=dict(color="#a5a5a5", width=0.6))


add_venn(360, 422, "#c0d4ee", "rgba(217,167,167,0.4)")
add_venn(584.5, 647, "#fce5d6", "rgba(177,197,127,0.4)")

# bar legend
add_swatch(214, 32, 223, 39, bar_up_colors[0])
add_swatch(223, 32, 232, 39, bar_up_colors[1])
add_swatch(214, 43, 223, 50, bar_down_colors[0])
add_swatch(223, 43, 232, 50, bar_down_colors[1])

notes = [
    note(14, 16, "a", 12, "#111111", True), note(294, 16, "b", 12, "#111111"), note(517, 16, "c", 12, "#111111"),
    note(15, 212, "d", 12, "#111111", True), note(215, 212, "e", 12, "#111111", True),
    note(411, 185, "f", 12, "#111111", True), note(574, 185, "g", 12, "#111111"),
    note(241, 36, "UP", 7, "#444444", xanchor="left"), note(241, 47, "DOWN", 7, "#444444", xanchor="left"),
    note(15, 95, "number", 10, "#111111", True, angle=-90), note(159, 192, "BH vs BL", 10, "#111111", True),
    note(355, 160, "BH", 10.5, "#111111", True), note(429, 159, "BL", 10.5, "#111111", True),
    note(578, 159, "BH", 10.5, "#111111", True), note(653, 158, "BL", 10.5, "#111111", True),
]
for xs, counts, pcts in (((333, 390, 448), venn_b_counts, venn_b_pcts), ((559, 619, 678), venn_c_counts, venn_c_pcts)):
    for x, count, pct in zip(xs, counts, pcts):
        notes.append(note(x, 80, count, 10.5, "#333333", family="Noto Sans"))
        notes.append(note(x, 93, pct, 6.5, "#555555", family="Noto Sans CJK SC"))

# ggplot style legends
legend_colours = (("#6a97e8", "#2fc02f", "#ef8080"), ("#7ad67c", "#8c8c8c", "#fdb92e"))
for (left, colours) in zip((170, 373), legend_colours):
    add_swatch(left, 308, left + 11, 338, "#f0f0f0")
    notes.append(note(left, 301, "significant", 8.5, "#333333", xanchor="left"))
    for yy, colour, label in zip((313, 323, 333), colours, ("down", "no", "up")):
        fig.add_shape(type="circle", xref="paper", yref="paper", x0=(left + 4) / W, x1=(left + 7) / W,
                      y0=1 - (yy + 1.5) / H, y1=1 - (yy - 1.5) / H, fillcolor=colour, line_width=0)
        notes.append(note(left + 14, yy, label, 6.5, "#222222", xanchor="left"))

# gene labels with leader lines
d_offsets = [(11, 0), (12, -2), (-5, -2), (-13, 10), (-4, -4), (7, -4), (-11, 9)]
e_offsets = [(5, -3), (12, -3), (17, 2), (-5, 6), (8, -5), (19, -3), (-5, -5)]
for name, x, y, (ax, ay) in zip(d_names, d_name_x, d_name_y, d_offsets):
    notes.append(dict(x=x, y=y, xref="x2", yref="y2", text=name, ax=ax, ay=ay, showarrow=True, arrowhead=0,
                      arrowwidth=0.4, arrowcolor="#555555", font=dict(size=4.5, color="#333333")))
for name, x, y, (ax, ay) in zip(e_names, e_name_x, e_name_y, e_offsets):
    notes.append(dict(x=x, y=y, xref="x3", yref="y3", text=name, ax=ax, ay=ay, showarrow=True, arrowhead=0,
                      arrowwidth=0.4, arrowcolor="#555555", font=dict(size=4.5, color="#333333")))

fig.update_layout(annotations=notes)

fig.write_html("out.html", config={"displayModeBar": False}, post_script="document.body.style.margin='0';")
